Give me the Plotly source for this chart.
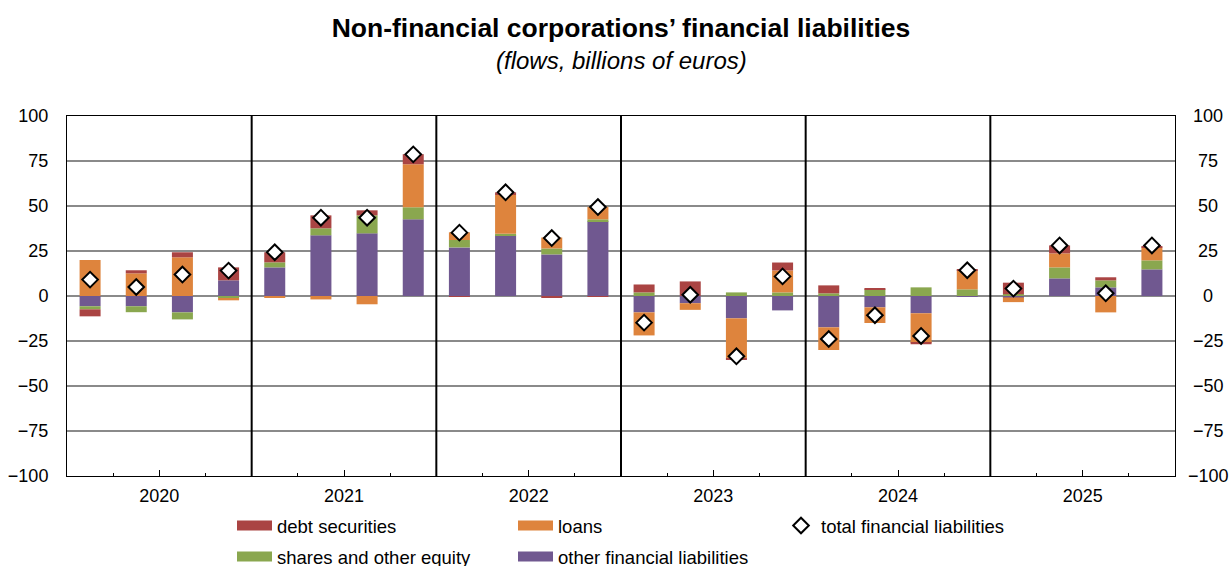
import plotly.graph_objects as go

years = ["2020", "2021", "2022", "2023", "2024", "2025"]
quarters_per_year = 4

other_fin = [-5.7, -5.7, -9.1, 8.7,
             15.9, 33.7, 34.8, 42.6,
             27.0, 33.7, 23.1, 41.5,
             -9.1, -4.0, -12.4, -8.0,
             -17.4, -6.3, -9.6, -0.5,
             -0.8, 9.8, 4.8, 14.8]
shares = [-1.7, -3.3, -3.9, -1.1,
          2.8, 3.9, 10.0, 6.7,
          4.1, 0.9, 3.3, 1.1,
          2.0, 0.0, 2.0, 2.0,
          1.5, 3.7, 4.8, 3.7,
          1.0, 6.1, 3.9, 5.0]
loans = [20.0, 12.6, 21.5, -1.3,
         -0.7, -1.9, -4.6, 23.9,
         4.3, 21.5, 6.1, 6.9,
         -12.8, -3.7, -22.2, 12.2,
         -12.6, -8.7, -16.5, 10.6,
         -2.6, 7.8, -9.1, 7.2]
debt = [-3.9, 1.7, 2.8, 7.2,
        5.6, 7.2, 2.8, 5.6,
        -0.5, 1.5, -1.1, -0.5,
        4.4, 8.1, -0.6, 4.4,
        4.4, 0.6, -0.7, 0.6,
        6.4, 4.4, 1.7, 0.6]
total = [9.1, 5.0, 11.9, 14.1,
         24.3, 43.5, 43.5, 78.7,
         35.2, 57.6, 32.2, 49.4,
         -14.8, 0.7, -33.5, 10.9,
         -23.9, -10.7, -22.2, 14.3,
         4.1, 28.1, 1.5, 28.1]
y_ticks = [-100, -75, -50, -25, 0, 25, 50, 75, 100]

n = len(total)
x = list(range(n))

C_RED = "#AA4443"
C_ORANGE = "#DE843D"
C_GREEN = "#8AA74F"
C_PURPLE = "#705890"
FONT = "Liberation Sans, Arial, sans-serif"

W, H = 1229, 566
ML, MR, MT, MB = 67, 54, 116, 90
PW, PH = W - ML - MR, H - MT - MB


def px_x(p):
    return (p - ML) / PW


def px_y(p):
    return (H - MB - p) / PH


def fmt_tick(v):
    return ("\u2212" + str(-v)) if v < 0 else str(v)


series = [
    ("other financial liabilities", other_fin, C_PURPLE, "legend2", 2),
    ("shares and other equity", shares, C_GREEN, "legend2", 1),
    ("loans", loans, C_ORANGE, "legend", 2),
    ("debt securities", debt, C_RED, "legend", 1),
]

fig = go.Figure()
for name, vals, col, leg, rank in series:
    fig.add_trace(go.Bar(x=x, y=vals, name=name, legendgroup=name,
                         marker=dict(color=col, line=dict(width=0)),
                         showlegend=False))
# legend entries drawn as wide colour swatches
for name, vals, col, leg, rank in series:
    fig.add_trace(go.Scatter(x=[None], y=[None], mode="lines", name=name,
                             legendgroup=name, line=dict(color=col, width=15),
                             legend=leg, legendrank=rank, hoverinfo="skip"))
fig.add_trace(go.Scatter(x=x, y=total, name="total financial liabilities",
                         mode="markers",
                         marker=dict(symbol="diamond", size=12, color="white",
                                     line=dict(color="black", width=2)),
                         legend="legend3"))

# year separators
for i in range(1, len(years)):
    fig.add_shape(type="line", xref="x", yref="paper",
                  x0=i * quarters_per_year - 0.5, x1=i * quarters_per_year - 0.5,
                  y0=0, y1=1, line=dict(color="black", width=2))

year_centers = [i * quarters_per_year + (quarters_per_year - 1) / 2 for i in range(len(years))]

# right-hand axis labels (centred, as in the original)
annotations = [dict(text="<i>(flows, billions of euros)</i>", xref="paper", yref="paper",
                    x=0.5, y=px_y(60), xanchor="center", yanchor="middle",
                    showarrow=False, font=dict(family=FONT, size=24, color="black"))]
for v in y_ticks:
    annotations.append(dict(text=fmt_tick(v), xref="paper", yref="y",
                            x=px_x(1208), y=v, xanchor="center", yanchor="middle",
                            showarrow=False, font=dict(family=FONT, size=18, color="black")))

leg_common = dict(orientation="h", xanchor="left", yanchor="middle",
                  entrywidth=231, entrywidthmode="pixels",
                  font=dict(family=FONT, size=18.5, color="black"),
                  bgcolor="rgba(0,0,0,0)")

fig.update_layout(
    width=W, height=H,
    barmode="relative", bargap=0.545,
    paper_bgcolor="white", plot_bgcolor="white",
    margin=dict(l=ML, r=MR, t=MT, b=MB, autoexpand=False),
    font=dict(family=FONT, size=18, color="black"),
    title=dict(text="<b>Non-financial corporations’ financial liabilities</b>",
               x=0.5, xanchor="center", xref="paper",
               y=1 - 28 / H, yanchor="middle", yref="container",
               font=dict(family=FONT, size=26.5, color="black")),
    annotations=annotations,
    xaxis=dict(range=[-0.5, n - 0.5], tickmode="array", tickvals=year_centers,
               ticktext=years, ticks="inside", ticklen=6, tickcolor="black",
               showgrid=False, zeroline=False, showline=True, linecolor="black",
               linewidth=1, mirror=True, ticklabelstandoff=3,
               tickfont=dict(size=18),
               minor=dict(tick0=-0.5, dtick=1, ticks="inside", ticklen=3,
                          tickcolor="black", showgrid=False)),
    yaxis=dict(range=[-100, 100], tickmode="array", tickvals=y_ticks,
               ticktext=[fmt_tick(v) for v in y_ticks],
               showgrid=True, gridcolor="#8a8a8a", gridwidth=2,
               zeroline=True, zerolinecolor="#8a8a8a", zerolinewidth=2,
               showline=True, linecolor="black", linewidth=1, mirror=True,
               ticks="", ticklabelstandoff=14, tickfont=dict(size=18)),
    legend=dict(x=px_x(232), y=px_y(526), itemwidth=35, **leg_common),
    legend2=dict(x=px_x(232), y=px_y(557), itemwidth=35, **leg_common),
    legend3=dict(x=px_x(781), y=px_y(526), **leg_common),
    showlegend=True,
)

fig.write_html("out.html", config={"displayModeBar": False},
               post_script="document.body.style.margin='0';")
